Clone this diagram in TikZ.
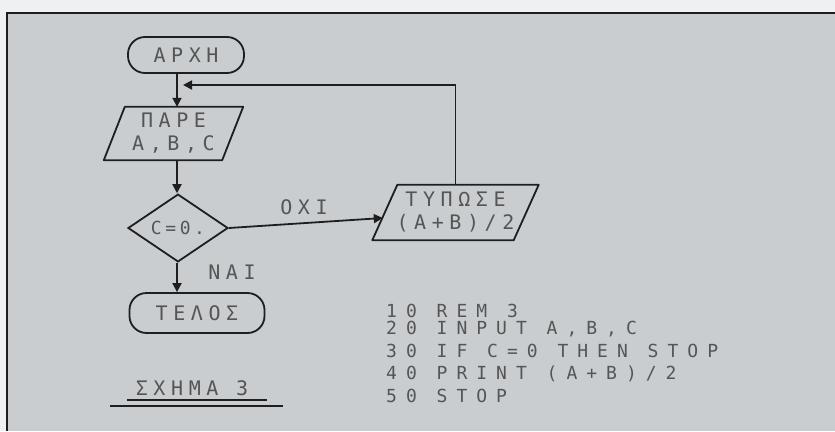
\documentclass[tikz,border=0pt]{standalone}
\usepackage{fontspec}
\setmonofont[LetterSpace=28]{DejaVu Sans Mono}
\usetikzlibrary{shapes.geometric,arrows.meta,calc}
\definecolor{paper}{RGB}{238,240,241}
\definecolor{card}{RGB}{201,205,208}
\definecolor{ink}{RGB}{30,30,30}
\definecolor{dots}{RGB}{85,85,85}
\begin{document}
\begin{tikzpicture}[x=1pt,y=-1pt,
  txt/.style={font=\ttfamily\fontsize{20}{20}\selectfont,text=dots,inner sep=0pt},
  code/.style={font=\ttfamily\fontsize{18}{18}\selectfont\addfontfeature{LetterSpace=50},text=dots,inner sep=0pt,anchor=west},
  term/.style={draw=ink,line width=1.8pt,rounded corners=17pt,txt},
  io/.style={txt,align=center,inner sep=0pt},
  dec/.style={draw=ink,line width=1.8pt,diamond,txt,inner sep=0pt},
  flow/.style={draw=ink,line width=1.8pt},
  arr/.style={flow,-{Triangle[length=9pt,width=9pt]}}]
\useasboundingbox (0,0) rectangle (835,431);
\fill[paper] (0,0) rectangle (835,431);
\fill[card] (7,13) rectangle (835,431);
\draw[ink,line width=2pt] (7,431) -- (7,13) -- (835,13);
% nodes
\node[term,minimum width=116pt,minimum height=36pt] (start) at (186,55) {ΑΡΧΗ};
\node[io,minimum width=118pt,minimum height=53pt] (pare) at (173.5,133.5) {ΠΑΡΕ\\[3pt]A,B,C};
\draw[flow,line join=round] ([xshift=10.5pt]pare.north west) -- ([xshift=10.5pt]pare.north east)
  -- ([xshift=-10.5pt]pare.south east) -- ([xshift=-10.5pt]pare.south west) -- cycle;
\node[dec,minimum width=100pt,minimum height=66pt,font=\ttfamily\fontsize{18}{18}\selectfont\addfontfeature{LetterSpace=20}] (test) at (178,228) {C=0.};
\node[io,minimum width=141pt,minimum height=55pt] (print) at (455.5,212.5) {ΤΥΠΩΣΕ\\[3pt](A+B)/2};
\draw[flow,line join=round] ([xshift=12.5pt]print.north west) -- ([xshift=12.5pt]print.north east)
  -- ([xshift=-12.5pt]print.south east) -- ([xshift=-12.5pt]print.south west) -- cycle;
\node[term,minimum width=135pt,minimum height=40pt] (end) at (197,313) {ΤΕΛΟΣ};
\node[txt] (no) at (304,207) {ΟΧΙ};
\node[txt] (yes) at (232,272) {ΝΑΙ};
\node[txt] (cap) at (192,388) {ΣΧΗΜΑ 3};
\coordinate (col) at (177,0);
\coordinate (back) at (183,85);
\coordinate (u1a) at (127,400);
\coordinate (u1b) at (267,400);
\coordinate (u2a) at (110,406);
\coordinate (u2b) at (283,406);
% code
\node[code] (l10) at (386,311) {10 REM 3};
\node[code] (l20) at (386,329) {20 INPUT A,B,C};
\node[code] (l30) at (386,351) {30 IF C=0 THEN STOP};
\node[code] (l40) at (386,374) {40 PRINT (A+B)/2};
\node[code] (l50) at (386,396) {50 STOP};
% connectors
\draw[arr] (start.south -| col) -- (pare.north -| col);
\draw[arr] (pare.south -| col) -- (test.north -| col);
\draw[arr] (test.east) -- ([xshift=-2pt,yshift=-5.5pt]print.west);
\draw[arr] (print.north) |- (back);
\draw[arr] (test.south -| col) -- (end.north -| col);
\draw[flow] (u1a) -- (u1b);
\draw[flow] (u2a) -- (u2b);
\end{tikzpicture}
\end{document}
